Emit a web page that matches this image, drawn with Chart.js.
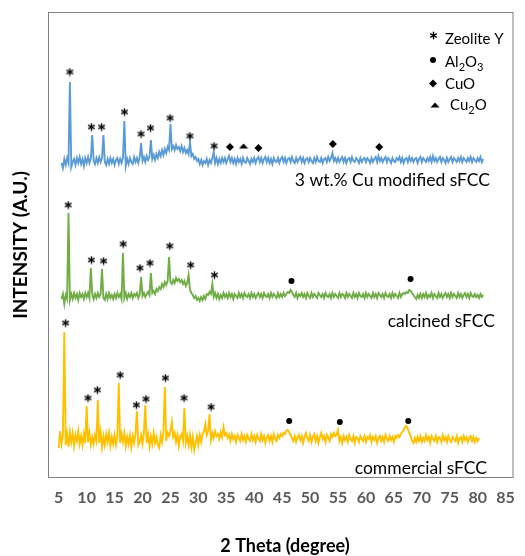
<!DOCTYPE html>
<html>
<head>
<meta charset="utf-8">
<title>XRD patterns of sFCC samples</title>
<script src="https://cdn.jsdelivr.net/npm/chart.js@4.4.1/dist/chart.umd.min.js"></script>
<style>
  html, body { margin: 0; padding: 0; background: #fff; }
  canvas { display: block; }
</style>
</head>
<body>
<canvas id="xrdChart" width="525" height="556"></canvas>
<script>
// 2 theta scan grid (degree)
const twoTheta = [
  5, 5.25, 5.5, 5.75, 6, 6.25, 6.5, 6.75, 7, 7.25, 7.5, 7.75, 8, 8.25, 8.5, 8.75, 9, 9.25, 9.5, 9.75,
  10, 10.25, 10.5, 10.75, 11, 11.25, 11.5, 11.75, 12, 12.25, 12.5, 12.75, 13, 13.25, 13.5, 13.75, 14, 14.25, 14.5, 14.75,
  15, 15.25, 15.5, 15.75, 16, 16.25, 16.5, 16.75, 17, 17.25, 17.5, 17.75, 18, 18.25, 18.5, 18.75, 19, 19.25, 19.5, 19.75,
  20, 20.25, 20.5, 20.75, 21, 21.25, 21.5, 21.75, 22, 22.25, 22.5, 22.75, 23, 23.25, 23.5, 23.75, 24, 24.25, 24.5, 24.75,
  25, 25.25, 25.5, 25.75, 26, 26.25, 26.5, 26.75, 27, 27.25, 27.5, 27.75, 28, 28.25, 28.5, 28.75, 29, 29.25, 29.5, 29.75,
  30, 30.25, 30.5, 30.75, 31, 31.25, 31.5, 31.75, 32, 32.25, 32.5, 32.75, 33, 33.25, 33.5, 33.75, 34, 34.25, 34.5, 34.75,
  35, 35.25, 35.5, 35.75, 36, 36.25, 36.5, 36.75, 37, 37.25, 37.5, 37.75, 38, 38.25, 38.5, 38.75, 39, 39.25, 39.5, 39.75,
  40, 40.25, 40.5, 40.75, 41, 41.25, 41.5, 41.75, 42, 42.25, 42.5, 42.75, 43, 43.25, 43.5, 43.75, 44, 44.25, 44.5, 44.75,
  45, 45.25, 45.5, 45.75, 46, 46.25, 46.5, 46.75, 47, 47.25, 47.5, 47.75, 48, 48.25, 48.5, 48.75, 49, 49.25, 49.5, 49.75,
  50, 50.25, 50.5, 50.75, 51, 51.25, 51.5, 51.75, 52, 52.25, 52.5, 52.75, 53, 53.25, 53.5, 53.75, 54, 54.25, 54.5, 54.75,
  55, 55.25, 55.5, 55.75, 56, 56.25, 56.5, 56.75, 57, 57.25, 57.5, 57.75, 58, 58.25, 58.5, 58.75, 59, 59.25, 59.5, 59.75,
  60, 60.25, 60.5, 60.75, 61, 61.25, 61.5, 61.75, 62, 62.25, 62.5, 62.75, 63, 63.25, 63.5, 63.75, 64, 64.25, 64.5, 64.75,
  65, 65.25, 65.5, 65.75, 66, 66.25, 66.5, 66.75, 67, 67.25, 67.5, 67.75, 68, 68.25, 68.5, 68.75, 69, 69.25, 69.5, 69.75,
  70, 70.25, 70.5, 70.75, 71, 71.25, 71.5, 71.75, 72, 72.25, 72.5, 72.75, 73, 73.25, 73.5, 73.75, 74, 74.25, 74.5, 74.75,
  75, 75.25, 75.5, 75.75, 76, 76.25, 76.5, 76.75, 77, 77.25, 77.5, 77.75, 78, 78.25, 78.5, 78.75, 79, 79.25, 79.5, 79.75,
  80, 80.25, 80.5, 80.75, 81
];

// intensities above each pattern's own baseline (a.u.)
const cuModifiedCounts = [
  null, null, -2, -7, 2, -4, 3, -2, 79, -6, -1, 2, -4, 3, -2, 4, -3, 2, -5, 3,
  -2, 4, -2, 3, 26, 0, -3, 3, -2, 4, -1, 3, 26, -1, -4, 2, -3, 3, -2, 2,
  -4, 1, 3, -3, 2, -2, 3, 40, -5, 2, -3, 3, -1, -3, 4, -1, 3, -2, 4, 18,
  0, 4, -1, 5, 1, 4, 21, 2, 6, 1, 7, 3, 9, 5, 11, 6, 12, 8, 14, 11,
  37, 12, 15, 11, 16, 12, 14, 10, 15, 9, 13, 8, 11, 7, 19, 5, 7, 2, 4, 0,
  2, -3, 1, -4, 0, -2, 2, -4, 1, -2, 3, 9, -2, 3, -3, 2, -2, 3, -1, 3,
  -2, 2, 5, -1, 3, -2, 2, -3, 3, -1, 2, -3, 3, -1, -2, 3, 0, -3, 2, -1,
  3, -2, 2, 4, -1, 3, -2, 2, 4, -1, 3, -2, 2, -3, 3, 0, -1, 3, -2, 2,
  4, -1, 3, -2, 2, 3, -1, 4, 0, -2, 3, -1, 2, 4, -1, 3, -2, 2, 3, -1,
  3, 0, -2, 3, -1, 4, 0, -1, 3, -2, 2, 3, -1, 4, 0, 3, 8, 0, 3, -1,
  3, -1, 2, 4, -1, 3, -2, 2, 3, -1, 4, 0, -1, 3, 1, -2, 3, -1, 2, 3,
  -1, 3, 1, -2, 3, -1, 2, 4, -1, 5, 0, 3, -1, 2, 4, -1, 3, 1, -2, 3,
  0, -1, 3, 1, 4, -1, 3, -2, 2, 3, -1, 4, 0, 3, -1, 2, 3, -2, 2, 4,
  -1, 3, 1, -1, 3, 0, 4, -1, 5, 0, 3, -1, 2, 4, -1, 3, 1, -2, 3, -1,
  2, 4, -1, 3, 1, -1, 3, 0, 4, -1, 3, 1, -1, 3, 0, 4, -1, 3, 1, -1,
  3, 0, 4, -1, 2
];

const calcinedCounts = [
  null, null, -3, 2, -8, 1, -3, 83, -4, 2, -3, 3, -2, 2, -4, 3, -1, 2, -3, 3,
  -1, 3, -2, 28, 2, -3, 2, -2, 3, -1, 2, 27, -2, -4, 2, -3, 3, -2, 1, -3,
  2, -2, 3, -1, 2, -3, 43, -2, 3, -3, 2, -1, 3, -2, 2, 0, 3, -2, 2, 19,
  0, 3, -1, 2, 4, 1, 23, 3, 5, 2, 7, 5, 9, 7, 12, 9, 14, 11, 15, 39,
  14, 12, 16, 13, 18, 15, 17, 14, 16, 12, 15, 10, 13, 21, 6, 3, 1, -2, 0, -4,
  -2, -5, -1, -4, 0, -3, 2, 1, 4, 2, 12, -1, 3, -2, 2, -3, 1, -2, 3, -1,
  2, -2, 3, -1, 2, -3, 2, 0, -2, 3, -1, 2, -2, 3, 0, -1, 2, -2, 3, -1,
  2, -2, 1, 3, -1, 2, -2, 3, 0, -1, 2, -2, 3, -1, 2, 0, -2, 3, -1, 2,
  -1, 3, 0, 2, 4, 3, 6, 4, 1, -1, 3, -2, 2, 0, 3, -1, 2, -2, 3, 0,
  -2, 3, -1, 2, 0, -2, 3, 1, -1, 2, -2, 3, 0, -1, 2, -2, 3, -1, 2, 0,
  -2, 3, -1, 2, 1, -2, 3, -1, 2, 0, -2, 3, -1, 2, -2, 3, 0, -1, 2, -2,
  3, -1, 2, 0, -2, 3, -1, 2, -2, 3, 1, -1, 2, -2, 3, 0, -1, 2, -2, 3,
  -1, 2, 0, -2, 3, -1, 2, 3, 2, 4, 3, 6, 5, 3, 1, -1, -3, 1, -2, 2,
  -2, 2, -1, 3, -2, 1, -1, 3, -2, 2, 0, -2, 3, -1, 2, -2, 1, 3, -1, 2,
  -2, 3, -1, 2, 0, -2, 3, -1, 2, -2, 1, 3, -1, 2, -2, 3, 0, -1, 2, -1,
  1, -2, 2, -1, 1
];

const commercialCounts = [
  -9, 8, -5, 4, 107, -6, 5, -8, 7, -3, 6, -7, 4, -2, 8, -5, 3, -6, 5, -4,
  33, -3, 6, -6, 2, -5, 4, -2, 39, -4, 7, -8, 3, -6, 5, -3, 6, -7, 2, -5,
  4, -6, 3, 56, -4, 5, -3, 6, -7, 2, -5, 4, -8, 3, -4, 5, 28, -6, -3, 4,
  -5, 6, 34, -4, 5, -7, 3, -5, 6, -4, 2, -6, -9, 4, -3, 7, 52, -2, 6, 3,
  8, 17, 2, 6, -3, 4, -7, 3, 5, -2, 31, -4, 3, -6, 4, -8, 2, -11, -4, 3,
  -6, 4, -3, 5, 7, 15, 4, 8, 25, -1, 6, 1, 8, 3, 5, 0, 7, 2, 12, 4,
  6, 1, 4, -2, 5, 0, 3, -3, 4, 1, -2, 5, -1, 3, -3, 4, 0, -2, 5, -1,
  3, -3, 4, 0, -2, 5, -1, 3, -4, 2, 4, -2, 3, -3, 5, 0, -2, 4, 1, 5,
  3, 6, 5, 8, 9, 7, 4, 1, -2, 3, -3, 2, 4, -1, 3, -4, 2, 6, 1, -2,
  4, -3, 2, 5, -2, 3, -4, 2, 6, 0, 3, -3, 4, 1, -2, 5, 2, 6, 3, 4,
  9, -2, 2, -4, 3, -1, 2, -3, 4, 0, -2, 3, -4, 2, 1, -3, 3, 0, -2, 3,
  -3, 2, 0, 4, -3, 2, -1, 3, -4, 1, 3, -2, 2, -3, 4, 0, -2, 3, -1, 2,
  -3, 3, 1, 4, 2, 5, 7, 9, 12, 13, 10, 6, 3, -2, -4, 1, -3, 2, -2, 3,
  -3, 1, -2, 4, -1, 2, -4, 3, 0, -2, 3, -3, 2, 1, -3, 4, -1, 2, -3, 3,
  -1, -3, 2, 0, -2, 3, -4, 1, 2, -3, 3, -1, 2, -3, 1, 3, -2, 2, -3, 1,
  -2, 1, null, null, null
];

// vertical stacking of the three patterns
const cuModifiedOffset = 317;
const calcinedOffset = 182;
const commercialOffset = 39;

// phase marks [2theta, height]
const zeoliteCuModified = [[6.99, 406], [10.85, 351], [12.68, 351], [16.77, 366], [19.73, 344], [21.44, 350], [24.94, 360], [28.49, 342], [32.81, 332]];
const cuoCuModified = [[35.65, 331], [40.75, 330], [54.08, 334], [62.38, 331]];
const cu2oCuModified = [[38.09, 332]];
const zeoliteCalcined = [[6.69, 273], [10.85, 218], [13.03, 217], [16.53, 234], [19.55, 210], [21.33, 215], [24.88, 232], [28.62, 213], [32.88, 203]];
const aluminaCalcined = [[46.67, 197], [67.99, 199]];
const zeoliteCommercial = [[6.23, 155], [10.24, 80], [11.91, 88], [16.0, 103], [18.9, 73], [20.62, 79], [24.1, 100], [27.43, 80], [32.28, 71]];
const aluminaCommercial = [[46.26, 57], [55.32, 56], [67.58, 57]];

const sampleNames = ['3 wt.% Cu modified sFCC', 'calcined sFCC', 'commercial sFCC'];
const xTicks = [5, 10, 15, 20, 25, 30, 35, 40, 45, 50, 55, 60, 65, 70, 75, 80, 85];

const stack = (counts, offset) => counts.map(v => v === null ? null : v + offset);
const marks = pts => pts.map(p => ({ x: p[0], y: p[1] }));

function asteriskImage() {
    const c = document.createElement('canvas');
    c.width = 9; c.height = 9;
    const g = c.getContext('2d');
    g.strokeStyle = '#000';
    g.lineWidth = 1.4;
    for (let k = 0; k < 3; k++) {
        const a = Math.PI / 2 + k * Math.PI / 3;
        g.beginPath();
        g.moveTo(4.5 + 3.8 * Math.cos(a), 4.5 + 3.8 * Math.sin(a));
        g.lineTo(4.5 - 3.8 * Math.cos(a), 4.5 - 3.8 * Math.sin(a));
        g.stroke();
    }
    return c;
}

function flatTriangleImage() {
    const c = document.createElement('canvas');
    c.width = 10; c.height = 6;
    const g = c.getContext('2d');
    g.fillStyle = '#000';
    g.beginPath();
    g.moveTo(5, 0.5); g.lineTo(9.5, 5.5); g.lineTo(0.5, 5.5);
    g.closePath();
    g.fill();
    return c;
}

const starImg = asteriskImage();
const triImg = flatTriangleImage();

function traceDataset(counts, offset, color) {
    return {
        type: 'line',
        data: stack(counts, offset),
        borderColor: color,
        borderWidth: 1.9,
        pointRadius: 0,
        tension: 0,
        fill: false,
        order: 2,
    };
}

function markDataset(pts, style, radius) {
    return {
        type: 'line',
        data: marks(pts),
        showLine: false,
        pointStyle: style,
        pointRadius: radius,
        pointBackgroundColor: '#000',
        pointBorderColor: '#000',
        pointBorderWidth: 0,
        order: 1,
    };
}

function drawChem(ctx, parts, x, y) {
    // parts: [text, isSubscript]
    let cx = x;
    parts.forEach(([t, sub]) => {
        ctx.font = sub ? '11px Lato' : '15px Lato';
        ctx.fillText(t, cx, sub ? y + 4 : y);
        cx += ctx.measureText(t).width;
    });
}

const decorations = {
    id: 'decorations',
    afterDraw(chart) {
        const ctx = chart.ctx;
        const a = chart.chartArea;
        ctx.save();

        // plot frame
        ctx.strokeStyle = '#7f7f7f';
        ctx.lineWidth = 1;
        ctx.strokeRect(a.left + 0.5, a.top + 0.5, a.right - a.left - 1, a.bottom - a.top - 1);

        // sample names
        ctx.fillStyle = '#000';
        ctx.textAlign = 'right';
        ctx.textBaseline = 'alphabetic';
        ctx.font = '17.5px Lato';
        ctx.fillText(sampleNames[0], 490, 186);
        ctx.fillText(sampleNames[1], 495, 327);
        ctx.fillText(sampleNames[2], 487, 474);

        // phase key
        ctx.textAlign = 'left';
        ctx.drawImage(starImg, 429, 31);
        ctx.font = '15px Lato';
        ctx.fillText('Zeolite Y', 445, 44);
        ctx.beginPath();
        ctx.arc(433, 60, 3, 0, Math.PI * 2);
        ctx.fill();
        drawChem(ctx, [['Al', false], ['2', true], ['O', false], ['3', true]], 445, 67);
        ctx.beginPath();
        ctx.moveTo(433, 79.5); ctx.lineTo(437, 83.5); ctx.lineTo(433, 87.5); ctx.lineTo(429, 83.5);
        ctx.closePath();
        ctx.fill();
        ctx.font = '15px Lato';
        ctx.fillText('CuO', 445, 89);
        ctx.drawImage(triImg, 430, 102);
        drawChem(ctx, [['Cu', false], ['2', true], ['O', false]], 450, 110);

        // axis titles
        ctx.font = 'bold 18px Lato';
        ctx.textAlign = 'center';
        ctx.fillText('2 Theta (degree)', 285, 552);
        ctx.translate(21, 245);
        ctx.rotate(-Math.PI / 2);
        ctx.textBaseline = 'middle';
        ctx.font = 'bold 19px Lato';
        ctx.fillText('INTENSITY (A.U.)', 0, 0);
        ctx.restore();
    }
};

new Chart(document.getElementById('xrdChart'), {
    type: 'line',
    data: {
        labels: twoTheta,
        datasets: [
            traceDataset(cuModifiedCounts, cuModifiedOffset, '#5b9bd5'),
            traceDataset(calcinedCounts, calcinedOffset, '#70ad47'),
            traceDataset(commercialCounts, commercialOffset, '#ffc000'),
            markDataset(zeoliteCuModified, starImg, 4),
            markDataset(zeoliteCalcined, starImg, 4),
            markDataset(zeoliteCommercial, starImg, 4),
            markDataset(cuoCuModified, 'rectRot', 4),
            markDataset(cu2oCuModified, triImg, 4),
            markDataset(aluminaCalcined, 'circle', 3),
            markDataset(aluminaCommercial, 'circle', 3),
        ]
    },
    options: {
        responsive: false,
        animation: false,
        layout: { padding: { left: 48, right: 8, top: 12, bottom: 0 } },
        plugins: { legend: { display: false }, tooltip: { enabled: false } },
        scales: {
            x: {
                type: 'linear',
                min: 3.08,
                max: 86.42,
                grid: { display: false, drawTicks: false },
                border: { display: false },
                afterBuildTicks: scale => { scale.ticks = xTicks.map(v => ({ value: v })); },
                afterFit: scale => { scale.height = 78; },
                ticks: {
                    padding: 10,
                    autoSkip: false,
                    maxRotation: 0,
                    color: '#595959',
                    font: { family: 'Lato', size: 16, weight: 'bold' }
                }
            },
            y: {
                display: false,
                min: 0,
                max: 466
            }
        }
    },
    plugins: [decorations]
});
</script>
</body>
</html>
